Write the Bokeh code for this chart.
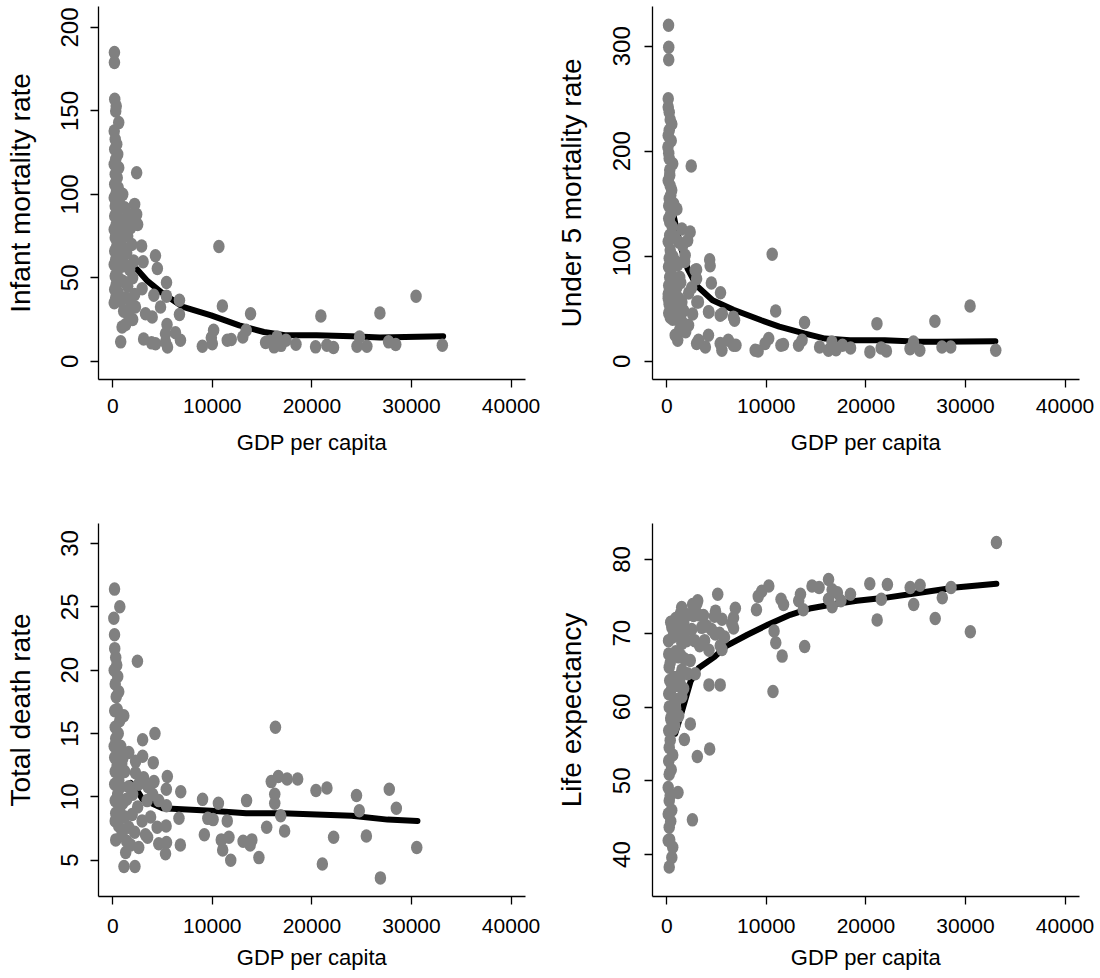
from bokeh.plotting import figure
from bokeh.layouts import gridplot
from bokeh.models import FixedTicker, Range1d, PrintfTickFormatter
from bokeh.embed import file_html
from bokeh.resources import INLINE

# ---------------- data ----------------
x_ticks = [0, 10000, 20000, 30000, 40000]

# Panel 1: infant mortality rate
gdp_imr = [170, 170, 200, 350, 600, 300, 150, 250, 400, 200,
           500, 300, 150, 600, 250, 450, 200, 550, 350, 150,
           650, 250, 450, 200, 700, 350, 150, 550, 250, 800,
           400, 200, 600, 300, 150, 900, 450, 250, 700, 350,
           200, 550, 300, 150, 800, 1000, 1200, 1300, 1600, 1100,
           1500, 1800, 1000, 1400, 1900, 1200, 1700, 2100, 1000, 1500,
           2000, 1300, 1800, 2200, 1100, 1600, 2000, 940, 1300, 800,
           2500, 2400, 2400, 2200, 2280, 2900, 3050, 4290, 4480, 2950,
           4130, 5400, 5400, 6700, 6700, 4800, 2280, 3290, 3960, 3100,
           3900, 4300, 5300, 5500, 5300, 6300, 6800, 9000, 5450, 10660,
           11010, 13840, 20900, 26830, 30460, 10000, 10130, 11500, 11900, 13060,
           13400, 15350, 16200, 16500, 16900, 17400, 18400, 20370, 21500, 22170,
           24530, 24780, 25520, 27700, 28420, 33100, 15800, 9900]
imr = [185, 179, 157, 153, 143, 150, 138, 133, 130, 127,
       124, 121, 118, 116, 112, 110, 106, 104, 101, 98,
       96, 93, 90, 87, 85, 82, 79, 77, 74, 72,
       69, 66, 64, 61, 58, 57, 54, 51, 49, 46,
       43, 41, 38, 35, 36, 100, 92, 85, 88, 78,
       75, 80, 68, 65, 70, 58, 55, 60, 48, 45,
       50, 38, 35, 40, 30, 28, 25, 20.5, 22, 11.6,
       82, 88, 113, 94, 82.6, 69, 59.6, 63.2, 55.6, 43.5,
       39.5, 47.2, 39, 36.5, 28, 32.5, 32.5, 28.5, 26.5, 13.3,
       11, 10.5, 11.5, 8.5, 16.5, 17, 12.6, 9, 22, 68.8,
       33.1, 28.5, 27.1, 28.9, 38.9, 10.5, 18.5, 12.6, 13, 14.5,
       18.5, 11.2, 8.6, 14.5, 9.5, 12.6, 10.2, 8.6, 9.6, 8.2,
       9, 14.5, 9, 11.6, 10, 9.6, 12, 14]
fit_gdp_imr = [2450, 3500, 4950, 7060, 9880, 12700, 15180, 17300, 20470, 24000, 26830, 33180]
fit_imr = [55, 48, 41, 32.5, 27.5, 21.5, 17.5, 15.6, 15.6, 15, 14.2, 15]
imr_ticks = [0, 50, 100, 150, 200]

# Panel 2: under 5 mortality rate
gdp_u5 = [180, 200, 200, 150, 250, 510, 150, 120, 250, 300,
          350, 400, 1020, 200, 300, 150, 350, 250, 450, 200,
          600, 300, 150, 500, 250, 700, 400, 200, 550, 300,
          150, 800, 350, 250, 600, 180, 450, 900, 300, 200,
          650, 400, 150, 750, 250, 500, 200, 350, 800, 250,
          600, 150, 450, 1520, 2350, 1200, 1850, 1100, 2860, 1300,
          1600, 2100, 1000, 1400, 1800, 2200, 1520, 3020, 1200, 1700,
          2190, 1000, 850, 1300, 3190, 1100, 1500, 2600, 1900, 1250,
          2500, 2460, 4310, 4360, 4480, 5400, 6810, 6700, 3000, 3000,
          3180, 4240, 5580, 5540, 6950, 6180, 3000, 3880, 4190, 5370,
          6700, 8880, 9180, 9880, 10240, 10590, 10940, 11470, 11720, 13240,
          13590, 13840, 15350, 16240, 16590, 17000, 17650, 18460, 20400, 21110,
          21530, 22060, 24430, 24780, 25410, 26930, 27640, 28520, 30460, 33040,
          4190, 5370]
u5mr = [320, 299, 287, 250, 237, 226, 215, 204, 193, 177,
        167, 158, 145, 148, 132.5, 242, 230, 220, 210, 198,
        188, 182, 172, 163, 155, 150, 140, 136, 128, 120,
        114, 118, 106, 98, 100, 90, 88, 95, 80, 72,
        75, 66, 60, 62, 54, 50, 46, 42, 45, 56,
        40, 64, 84, 126, 123, 113.5, 101, 92, 86.6, 80,
        110, 115, 70, 75, 95, 65, 56.4, 56.4, 60, 48,
        34.3, 40, 24.7, 30, 20, 20, 38, 45, 28, 52,
        70, 186, 96.7, 91, 74.5, 65.3, 39, 42, 87.2, 78.6,
        56.5, 46.9, 45.3, 10.5, 15.2, 20, 16.8, 13.6, 24.7, 16.8,
        15.2, 10.5, 9.8, 16.8, 21.6, 101.8, 47.9, 15.2, 16, 15.2,
        20, 36.8, 13.6, 10.5, 18.4, 11, 15.2, 12.7, 8.9, 35.8,
        12.7, 9.8, 12, 18.4, 10.5, 38, 13.6, 13.6, 52.6, 10.5,
        47, 43.8]
fit_gdp_u5 = [680, 1300, 2100, 3000, 4600, 6700, 9500, 11300, 13800, 15900, 18400, 21900, 25400, 27200, 33000]
fit_u5mr = [139, 112, 88, 72, 58, 49, 39, 33, 26.5, 21.6, 20, 20, 18.5, 18.5, 19]
u5_ticks = [0, 100, 200, 300]

# Panel 3: total death rate
gdp_tdr = [180, 710, 110, 180, 2480, 3000, 4240, 3000, 4070, 4140,
           5480, 5380, 3540, 6830, 6650, 6790, 9020, 9200, 9550, 10080,
           10610, 10900, 11040, 11500, 11670, 11850, 13090, 13440, 13800, 13970,
           14680, 15460, 16340, 15920, 16630, 16270, 16270, 16870, 17260, 17510,
           18570, 20410, 21050, 21510, 22180, 24480, 24760, 25470, 26880, 27770,
           28480, 30530, 200, 300, 150, 400, 250, 500, 350, 600,
           200, 1110, 450, 250, 700, 300, 550, 150, 800, 1610,
           200, 650, 250, 450, 900, 2280, 200, 600, 1610, 1200,
           250, 500, 1000, 800, 3450, 4620, 1400, 2000, 300, 700,
           1950, 1200, 2500, 250, 600, 2950, 1600, 4460, 5360, 940,
           3290, 300, 1400, 2200, 4620, 2610, 5300, 1800, 1130, 2230,
           1300, 3500, 3800, 4000, 5400, 1000, 5400, 700, 2600, 2300,
           3100]
tdr = [26.4, 25, 24.1, 22.8, 20.7, 14.5, 15, 13.2, 12.7, 11.2,
       11.6, 10.6, 10.8, 10.4, 8.3, 6.2, 9.8, 7, 8.3, 8.2,
       9.5, 6.6, 5.8, 8.1, 6.8, 5, 6.5, 9.7, 6.2, 6.6,
       5.2, 7.6, 15.5, 11.2, 11.6, 10.2, 9.5, 8.5, 7.3, 11.4,
       11.4, 10.5, 4.7, 10.7, 6.8, 10.1, 8.9, 6.9, 3.6, 10.6,
       9.1, 6, 21.7, 21, 20, 20.4, 18.9, 19.5, 17.9, 18.3,
       16.8, 16.4, 16.9, 15.5, 16, 14.6, 15, 14, 14, 13.5,
       13.1, 13.3, 12, 12.5, 12.6, 11.9, 11, 11.3, 10.8, 12,
       9.7, 10.2, 9.5, 10.8, 9.7, 9.7, 9.8, 10.2, 8.7, 8.9,
       8.6, 8.4, 9.2, 8.1, 7.7, 8.1, 7.6, 7.6, 7.7, 7.1,
       7, 6.6, 6.5, 7.2, 6.3, 6, 5.5, 6.2, 4.5, 4.5,
       5.6, 6.8, 8.4, 10.2, 9.3, 13, 6.4, 12, 11, 12.8,
       11.5]
fit_gdp_tdr = [1800, 2300, 3000, 5000, 9900, 13400, 17000, 20500, 24000, 27600, 30600]
fit_tdr = [11.1, 10.7, 9.8, 9.1, 8.9, 8.7, 8.7, 8.6, 8.5, 8.2, 8.1]
tdr_ticks = [5, 10, 15, 20, 25, 30]

# Panel 4: life expectancy
gdp_le = [33110, 28550, 27670, 25440, 24450, 24800, 26960, 30490, 22160, 20390,
          21550, 21130, 18450, 17490, 16250, 16610, 16250, 16610, 17140, 15300,
          14590, 13430, 13250, 13710, 13850, 11480, 11730, 10780, 10950, 11590,
          10670, 10250, 9540, 9190, 9010, 6890, 6710, 6710, 5120, 5550,
          5550, 5370, 4240, 4240, 4310, 3070, 2370, 1770, 2580, 1130,
          3110, 3180, 3020, 1350, 2690, 3690, 4790, 6530, 510, 1850,
          3520, 4870, 180, 1520, 5370, 200, 1180, 2360, 250, 1520,
          2860, 300, 1180, 200, 1520, 250, 900, 450, 200, 250,
          200, 250, 150, 250, 150, 250, 150, 510, 250, 400,
          600, 350, 700, 500, 800, 400, 650, 350, 600, 450,
          350, 500, 400, 300, 600, 900, 1100, 1300, 1700, 2100,
          2500, 2000, 900, 1400, 1800, 2100, 1000, 1300, 1700, 1000,
          800, 1200, 4000, 4500, 3800, 2800, 1500, 4900, 5300, 3300,
          2600, 5800]
life_exp = [82.3, 76.2, 74.8, 76.5, 76.2, 73.9, 72, 70.2, 76.6, 76.7,
            74.6, 71.8, 75.3, 74.4, 77.3, 75.9, 74.6, 73.6, 75.5, 76.2,
            76.4, 75.3, 74.4, 73.2, 68.2, 74.6, 73.9, 70.3, 68.7, 66.9,
            62.1, 76.4, 75.7, 75, 73.2, 73.4, 72.1, 70.7, 75.3, 71.9,
            67.8, 63, 63, 67.7, 54.3, 53.3, 57.7, 55.6, 44.7, 48.4,
            74.4, 72.5, 74, 72.6, 72.4, 72.4, 72.3, 71.3, 70.8, 70.4,
            70.8, 69.9, 69, 68.6, 68.3, 67.2, 66.8, 66.3, 65.4, 65,
            64.5, 63.6, 62.9, 61.8, 61.4, 60, 59.8, 58.2, 56.8, 54.5,
            52.7, 50.9, 49.1, 47.3, 45.5, 43.7, 41.9, 39.6, 38.3, 71.5,
            69.5, 66, 64, 62.5, 61, 58.5, 57, 55.5, 53.5, 51.5,
            48, 46, 44.5, 42, 41, 72, 70.5, 69.5, 71.5, 72.5,
            70.5, 69, 67.5, 67, 66.5, 64.5, 64, 63.5, 62.5, 61,
            57.5, 58.8, 71, 70.5, 69, 69, 73.5, 73, 70, 68.3,
            73.9, 69.5]
fit_gdp_le = [850, 1350, 2400, 3200, 4800, 6000, 8100, 10200, 12400, 14500, 16600, 19100, 21900, 25400, 29000, 33100]
fit_le = [56.4, 58.6, 63.5, 65.3, 66.8, 68.3, 69.8, 71.2, 72.5, 73.4, 73.9, 74.4, 74.8, 75.5, 76.2, 76.7]
le_ticks = [40, 50, 60, 70, 80]

# ---------------- styling ----------------
FONT = "Liberation Sans"
POINT = "#808080"


def panel(gx, gy, fx, fy, ylabel, yticks, yrange, left, right, top, bottom,
          ylab_standoff, ytick_standoff, xtick_standoff, xlab_standoff):
    p = figure(output_backend="svg", toolbar_location=None,
               frame_width=427, frame_height=373,
               x_range=Range1d(-1430, 41450), y_range=Range1d(*yrange),
               min_border_left=left, min_border_right=right,
               min_border_top=top, min_border_bottom=bottom,
               background_fill_color="white", border_fill_color="white")
    p.outline_line_color = None
    p.grid.visible = False

    p.line(fx, fy, line_width=6, line_color="black",
           line_cap="round", line_join="round")
    p.ellipse(x=gx, y=gy, width=11.5, height=13.5,
              width_units="screen", height_units="screen",
              fill_color=POINT, line_color=None)

    for ax in (p.xaxis[0], p.yaxis[0]):
        ax.axis_line_color = "black"
        ax.axis_line_width = 1.3
        ax.major_tick_line_color = "black"
        ax.major_tick_line_width = 1.3
        ax.major_tick_in = 0
        ax.major_tick_out = 8
        ax.minor_tick_line_color = None
        ax.major_label_text_color = "black"
        ax.axis_label_text_color = "black"
        ax.axis_label_text_font_style = "normal"

    xa = p.xaxis[0]
    xa.ticker = FixedTicker(ticks=x_ticks)
    xa.formatter = PrintfTickFormatter(format="%d")
    xa.major_label_text_font = FONT
    xa.major_label_text_font_size = "21px"
    xa.major_label_standoff = xtick_standoff
    xa.axis_label = "GDP per capita"
    xa.axis_label_text_font = FONT
    xa.axis_label_text_font_size = "22px"
    xa.axis_label_standoff = xlab_standoff

    ya = p.yaxis[0]
    ya.ticker = FixedTicker(ticks=yticks)
    ya.formatter = PrintfTickFormatter(format="%d")
    ya.major_label_orientation = "vertical"
    ya.major_label_text_font = FONT
    ya.major_label_text_font_size = "24px"
    ya.major_label_standoff = ytick_standoff
    ya.axis_label = ylabel
    ya.axis_label_text_font = FONT
    ya.axis_label_text_font_size = "28px"
    ya.axis_label_standoff = ylab_standoff
    return p


p1 = panel(gdp_imr, imr, fit_gdp_imr, fit_imr, "Infant mortality rate", imr_ticks,
           (-10.96, 212.6), 98, 25, 6, 110, 23, 12, 11, 14)
p2 = panel(gdp_u5, u5mr, fit_gdp_u5, fit_u5mr, "Under 5 mortality rate", u5_ticks,
           (-17.4, 337.8), 102, 19, 6, 110, 24, 14, 11, 14)
p3 = panel(gdp_tdr, tdr, fit_gdp_tdr, fit_tdr, "Total death rate", tdr_ticks,
           (2.13, 31.58), 98, 25, 34, 81, 23, 12, 14, 9)
p4 = panel(gdp_le, life_exp, fit_gdp_le, fit_le, "Life expectancy", le_ticks,
           (34.31, 84.88), 102, 19, 34, 81, 24, 14, 14, 9)

grid = gridplot([[p1, p2], [p3, p4]], toolbar_location=None)

open("out.html", "w").write(file_html(grid, INLINE))
